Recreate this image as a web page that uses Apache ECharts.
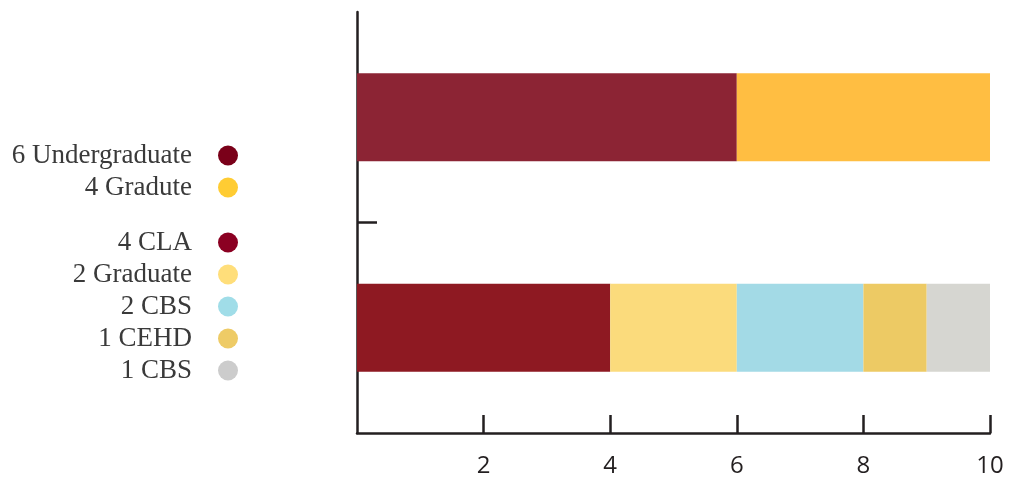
<!DOCTYPE html>
<html>
<head>
<meta charset="utf-8">
<script src="https://cdn.jsdelivr.net/npm/echarts@6/dist/echarts.min.js"></script>
<style>html,body{margin:0;padding:0;background:#fff}#c{width:1016px;height:479px}</style>
</head>
<body>
<div id="c"></div>
<script>
// Data
var categories = ['Colleges', 'Level'];           // bottom bar, top bar
var topNames = ['Undergraduate', 'Gradute'];
var topValues = [6, 4];
var bottomNames = ['CLA', 'Graduate', 'CBS', 'CEHD', 'CBS'];
var bottomValues = [4, 2, 2, 1, 1];
var xTicks = [2, 4, 6, 8, 10];

// Styles
var topBarColors = ['#8C2434', '#FFBE42'];
var topDotColors = ['#7A0019', '#FFCC33'];
var bottomBarColors = ['#8E1922', '#FBDB7C', '#A3DAE6', '#EDCA64', '#D6D6D1'];
var bottomDotColors = ['#8B0022', '#FFDE7A', '#A0DDE8', '#EECB66', '#CCCCCC'];

var series = [];
var legend1 = [], legend2 = [];
topNames.forEach(function (n, i) {
  var name = topValues[i] + ' ' + n;
  series.push({
    type: 'bar', name: name, stack: 'all', barWidth: 88,
    itemStyle: { color: topBarColors[i] },
    data: [null, topValues[i]]
  });
  legend1.push({ name: name, itemStyle: { color: topDotColors[i] } });
});
bottomNames.forEach(function (n, i) {
  var name = bottomValues[i] + ' ' + n;
  series.push({
    type: 'bar', name: name, stack: 'all', barWidth: 88,
    itemStyle: { color: bottomBarColors[i] },
    data: [bottomValues[i], null]
  });
  legend2.push({ name: name, itemStyle: { color: bottomDotColors[i] } });
});

var legendText = { fontFamily: 'Liberation Serif', fontSize: 27, lineHeight: 27, color: '#3a3a3a', padding: [0, 21, 0, 0] };
var axisCol = '#231f20';

var chart = echarts.init(document.getElementById('c'), null, { renderer: 'canvas' });
chart.setOption({
  animation: false,
  grid: { left: 357, right: 26, top: 12, bottom: 46, containLabel: false },
  legend: [
    { orient: 'vertical', align: 'right', right: 778, top: 142, padding: 0, itemGap: 5,
      itemWidth: 20, itemHeight: 20, icon: 'circle', selectedMode: false,
      textStyle: legendText, data: legend1 },
    { orient: 'vertical', align: 'right', right: 778, top: 229, padding: 0, itemGap: 5,
      itemWidth: 20, itemHeight: 20, icon: 'circle', selectedMode: false,
      textStyle: legendText, data: legend2 }
  ],
  xAxis: {
    type: 'value', min: 0, max: 10, interval: 2,
    axisLine: { show: true, lineStyle: { color: axisCol, width: 2.5 } },
    axisTick: { show: true, inside: true, length: 18, customValues: xTicks, lineStyle: { color: axisCol, width: 2.5 } },
    axisLabel: { customValues: xTicks, margin: 21, fontFamily: 'Open Sans', fontSize: 24, color: axisCol },
    splitLine: { show: false }
  },
  yAxis: [
    {
      type: 'category', data: categories,
      axisLine: { show: true, lineStyle: { color: axisCol, width: 2.5 } },
      axisTick: { show: false },
      axisLabel: { show: false },
      splitLine: { show: false }
    },
    {
      type: 'value', min: 0, max: 2, position: 'left',
      axisLine: { show: false },
      axisTick: { show: true, inside: true, length: 20, customValues: [1], lineStyle: { color: axisCol, width: 2.5 } },
      axisLabel: { show: false },
      splitLine: { show: false }
    }
  ],
  series: series
});
</script>
</body>
</html>
